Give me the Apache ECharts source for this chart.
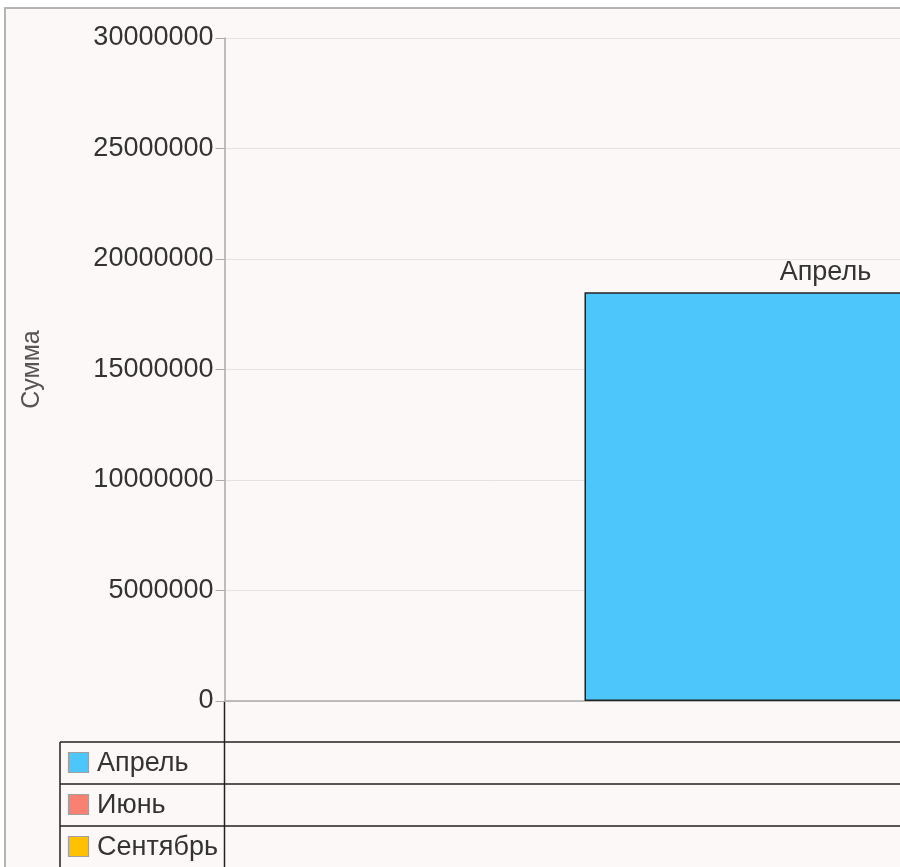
<!DOCTYPE html>
<html><head><meta charset="utf-8">
<script src="https://cdn.jsdelivr.net/npm/echarts@6/dist/echarts.min.js"></script>
<style>html,body{margin:0;padding:0;overflow:hidden;background:#fff}#wrap{width:900px;height:867px;overflow:hidden;position:relative}#c{width:2500px;height:867px;position:absolute;left:0;top:0}</style>
</head><body><div id="wrap"><div id="c"></div></div>
<script>
const categories = ['Итого'];
const seriesNames = ['Апрель', 'Июнь', 'Сентябрь'];
const aprilValues = [18500000];
const juneValues = [26000000];
const septemberValues = [21000000];
const seriesColors = ['#4DC6FC', '#FA8072', '#FFC000'];
const yMin = 0, yMax = 30000000, yStep = 5000000;

const values = [aprilValues, juneValues, septemberValues];
const FONT = '"Liberation Sans", Arial, sans-serif';
const gridLeft = 224.5, gridTop = 38, gridW = 2166, gridH = 663;
const tableTop = 742, rowH = 42, tableLeft = 60;

const chart = echarts.init(document.getElementById('c'));
const graphics = [
  {type:'rect', shape:{x:0,y:0,width:3000,height:7}, style:{fill:'#fff'}, silent:true},
  {type:'rect', shape:{x:0,y:0,width:4,height:1000}, style:{fill:'#fff'}, silent:true},
  {type:'polyline', shape:{points:[[5,1000],[5,8],[3000,8]]}, style:{stroke:'#b4b4b4', lineWidth:2, fill:null}, silent:true},
  {type:'line', shape:{x1:gridLeft,y1:gridTop+gridH,x2:gridLeft,y2:1000}, style:{stroke:'#222', lineWidth:1.5}, silent:true},
  {type:'line', shape:{x1:tableLeft,y1:tableTop,x2:tableLeft,y2:1000}, style:{stroke:'#222', lineWidth:1.5}, silent:true},
  {type:'line', shape:{x1:gridLeft+gridW,y1:gridTop+gridH,x2:gridLeft+gridW,y2:1000}, style:{stroke:'#222', lineWidth:1.5}, silent:true}
];
seriesNames.forEach((n, i) => {
  const y = tableTop + i * rowH;
  graphics.push({type:'line', shape:{x1:tableLeft,y1:y,x2:gridLeft+gridW,y2:y}, style:{stroke:'#222', lineWidth:1.5}, silent:true});
  graphics.push({type:'rect', shape:{x:68.5,y:y+10.5,width:20,height:20}, style:{fill:seriesColors[i], stroke:'#a0a0a0', lineWidth:1.2}, silent:true});
  graphics.push({type:'text', x:97, y:y+rowH/2+1, style:{text:n, fontSize:27, fontFamily:FONT, fill:'#333', verticalAlign:'middle'}, silent:true});
});

chart.setOption({
  backgroundColor:'#fcf8f7',
  animation:false,
  grid:{left:gridLeft, top:gridTop, width:gridW, height:gridH, outerBoundsMode:'none'},
  xAxis:{type:'category', data:categories, axisLabel:{show:false}, axisTick:{show:false},
    axisLine:{lineStyle:{color:'#aaa', width:1.5}}},
  yAxis:{type:'value', min:yMin, max:yMax, interval:yStep,
    name:'Сумма', nameLocation:'middle', nameGap:180,
    nameTextStyle:{fontSize:25, fontFamily:FONT, color:'#555'},
    axisLine:{show:true, lineStyle:{color:'#aaa', width:1.5}},
    axisTick:{show:true, length:9, lineStyle:{color:'#aaa'}},
    axisLabel:{fontSize:27, fontFamily:FONT, color:'#333', margin:11, formatter:v => String(v)},
    splitLine:{lineStyle:{color:'#e2e2e2'}}},
  series: seriesNames.map((n, i) => ({
    type:'bar', name:n, data:values[i], barGap:'0%', barCategoryGap:'33.24%',
    itemStyle:{color:seriesColors[i], borderColor:'#222', borderWidth:1.5},
    label:{show:true, position:'top', formatter:'{a}', fontSize:27, fontFamily:FONT, color:'#333', distance:6}
  })),
  graphic: graphics
});
</script></body></html>
